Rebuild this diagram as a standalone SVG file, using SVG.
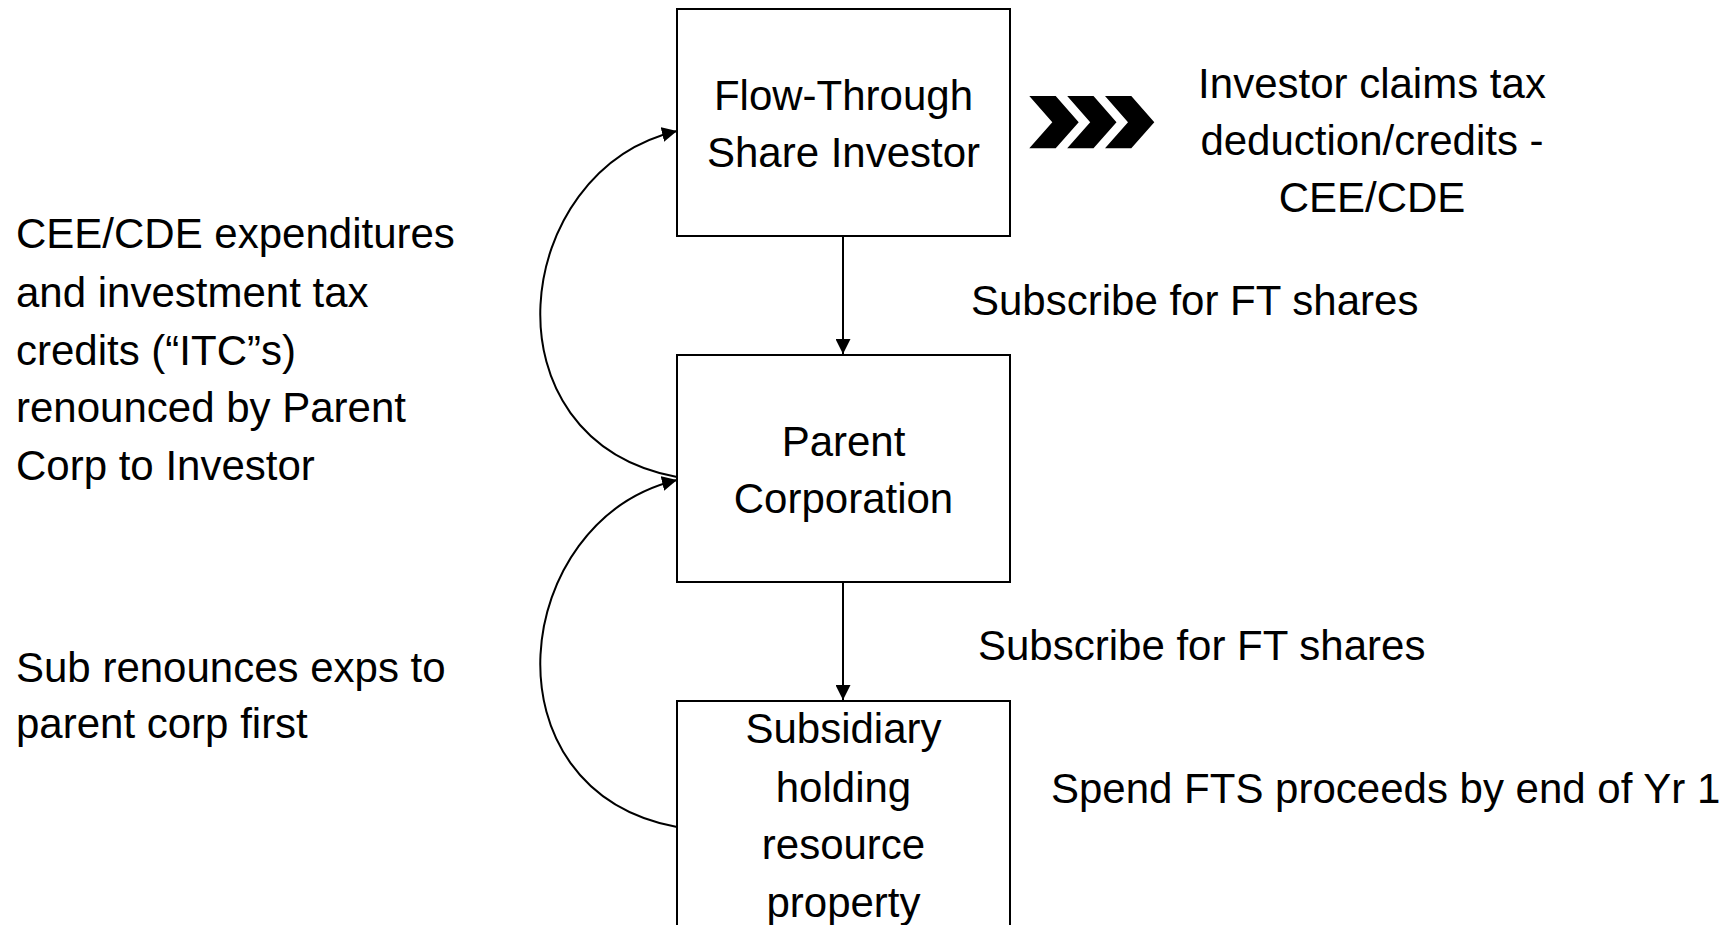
<svg xmlns="http://www.w3.org/2000/svg" width="1735" height="925" viewBox="0 0 1735 925">
  <style>
    .t { font-family: "Liberation Sans", Arial, sans-serif; font-size: 42px; fill: #000; }
    .c { text-anchor: middle; }
    .box { fill: #fff; stroke: #000; stroke-width: 2; }
    .ln { fill: none; stroke: #000; stroke-width: 2; }
  </style>
  <defs>
    <marker id="ah" markerUnits="userSpaceOnUse" markerWidth="15" markerHeight="15" refX="15" refY="7.5" orient="auto">
      <path d="M0,0 L15,7.5 L0,15 z" fill="#000"/>
    </marker>
  </defs>
  <rect x="0" y="0" width="1735" height="925" fill="#fff"/>

  <g id="connectors">
    <line class="ln" x1="843" y1="236" x2="843" y2="354" marker-end="url(#ah)"/>
    <line class="ln" x1="843" y1="582" x2="843" y2="700" marker-end="url(#ah)"/>
    <path class="ln" d="M677,477 C480,440 510,170 677,131" marker-end="url(#ah)"/>
    <path class="ln" d="M677,827 C480,790 510,520 677,480" marker-end="url(#ah)"/>
  </g>

  <g id="investor">
    <rect class="box" x="677" y="9" width="333" height="227"/>
    <text class="t c" x="843.5" y="110">Flow-Through</text>
    <text class="t c" x="843.5" y="167">Share Investor</text>
  </g>

  <g id="parent">
    <rect class="box" x="677" y="355" width="333" height="227"/>
    <text class="t c" x="843.5" y="456">Parent</text>
    <text class="t c" x="843.5" y="513">Corporation</text>
  </g>

  <g id="subsidiary">
    <rect class="box" x="677" y="701" width="333" height="260"/>
    <text class="t c" x="843.5" y="743">Subsidiary</text>
    <text class="t c" x="843.5" y="802">holding</text>
    <text class="t c" x="843.5" y="859">resource</text>
    <text class="t c" x="843.5" y="917">property</text>
  </g>

  <g id="chevrons" fill="#000">
    <polygon points="1029.3,96 1055.7,96 1078.7,122.2 1055.7,148.3 1029.3,148.3 1052.3,122.2"/>
    <polygon points="1067.2,96 1093.5,96 1116.5,122.2 1093.5,148.3 1067.2,148.3 1090.2,122.2"/>
    <polygon points="1105,96 1131.3,96 1154.3,122.2 1131.3,148.3 1105,148.3 1128,122.2"/>
  </g>

  <g id="claim">
    <text class="t c" x="1372" y="98">Investor claims tax</text>
    <text class="t c" x="1372" y="155">deduction/credits -</text>
    <text class="t c" x="1372" y="212">CEE/CDE</text>
  </g>

  <g id="labels">
    <text class="t" x="971" y="315">Subscribe for FT shares</text>
    <text class="t" x="978" y="660">Subscribe for FT shares</text>
    <text class="t" x="1051" y="803">Spend FTS proceeds by end of Yr 1</text>
  </g>

  <g id="left-notes">
    <text class="t" x="16" y="248">CEE/CDE expenditures</text>
    <text class="t" x="16" y="307">and investment tax</text>
    <text class="t" x="16" y="365">credits (“ITC”s)</text>
    <text class="t" x="16" y="422">renounced by Parent</text>
    <text class="t" x="16" y="480">Corp to Investor</text>
    <text class="t" x="16" y="682">Sub renounces exps to</text>
    <text class="t" x="16" y="738">parent corp first</text>
  </g>
</svg>
